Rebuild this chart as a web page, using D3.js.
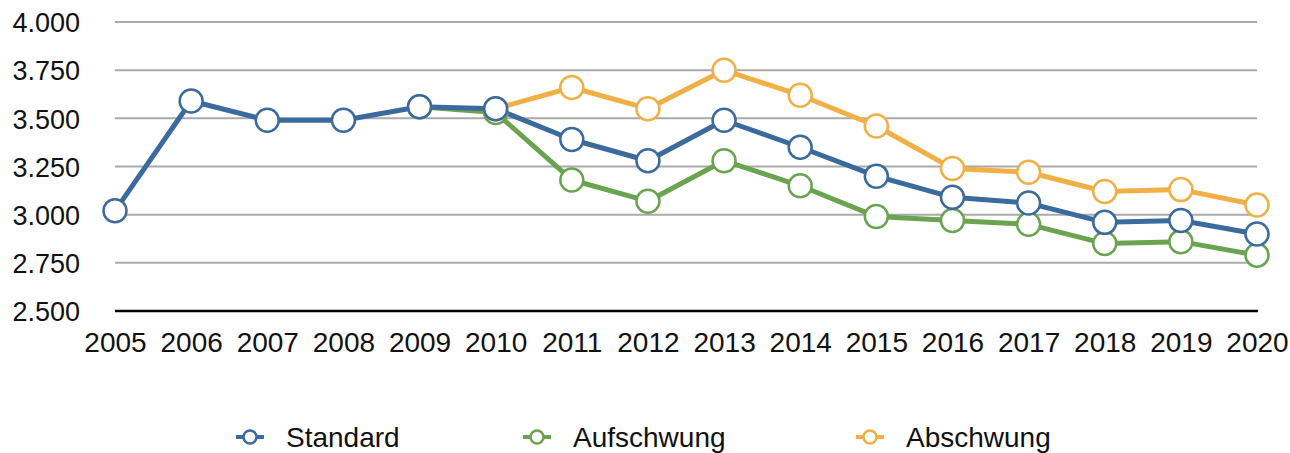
<!DOCTYPE html>
<html>
<head>
<meta charset="utf-8">
<script src="https://cdn.jsdelivr.net/npm/d3@7"></script>
<style>
  body { margin: 0; background: #fff; }
  svg text { font-family: "Liberation Sans", Arial, sans-serif; fill: #111; }
</style>
</head>
<body>
<div id="chart"></div>
<script>
// data
const years = [2005, 2006, 2007, 2008, 2009, 2010, 2011, 2012, 2013, 2014, 2015, 2016, 2017, 2018, 2019, 2020];
const standard   = [3.02, 3.59, 3.49, 3.49, 3.56, 3.55, 3.39, 3.28, 3.49, 3.35, 3.20, 3.09, 3.06, 2.96, 2.97, 2.90];
const aufschwung = [null, null, null, null, 3.56, 3.53, 3.18, 3.07, 3.28, 3.15, 2.99, 2.97, 2.95, 2.85, 2.86, 2.79];
const abschwung  = [null, null, null, null, null, 3.55, 3.66, 3.55, 3.75, 3.62, 3.46, 3.24, 3.22, 3.12, 3.13, 3.05];
const yTicks = [2.5, 2.75, 3.0, 3.25, 3.5, 3.75, 4.0];

const width = 1290, height = 453;
const padding = {top: 22, right: 33, bottom: 142, left: 115};

const BlueCol = "#3a6a9e";
const GreenCol = "#6aa450";
const OrangeCol = "#f0b047";

const series = [
  {name: "Aufschwung", values: aufschwung, color: GreenCol},
  {name: "Abschwung", values: abschwung, color: OrangeCol},
  {name: "Standard", values: standard, color: BlueCol}
];
const legendOrder = ["Standard", "Aufschwung", "Abschwung"];

const svg = d3.select("#chart").append("svg")
  .attr("width", width)
  .attr("height", height);

// x scale
const x = d3.scalePoint().domain(years).range([padding.left, width - padding.right]);
// y scale
const y = d3.scaleLinear().domain([2.5, 4.0]).range([height - padding.bottom, padding.top]);

// grid lines
svg.append("g")
  .selectAll("line")
  .data(yTicks.filter(d => d > 2.5))
  .join("line")
    .attr("x1", padding.left)
    .attr("x2", width - padding.right)
    .attr("y1", d => y(d))
    .attr("y2", d => y(d))
    .attr("stroke", "#aaaaaa")
    .attr("stroke-width", 2);

// y Axis
const yAxis = d3.axisLeft(y).tickValues(yTicks).tickSize(0).tickPadding(0)
  .tickFormat(d => d3.format(".3f")(d));
const gy = svg.append("g")
  .attr("class", "axis y")
  .attr("transform", "translate(" + 80 + ",0)")
  .call(yAxis);
gy.select(".domain").remove();
gy.selectAll("text")
  .attr("font-size", 27)
  .attr("dy", "0.36em")
  .attr("x", 0);

// x Axis
const xAxis = d3.axisBottom(x).tickSize(0).tickPadding(0);
const gx = svg.append("g")
  .attr("class", "axis x")
  .attr("transform", "translate(0," + y(2.5) + ")")
  .call(xAxis);
gx.select(".domain")
  .attr("stroke", "#000")
  .attr("stroke-width", 2.5)
  .attr("d", "M" + padding.left + ",0H" + (width - padding.right + 1));
gx.selectAll("text")
  .attr("font-size", 28)
  .attr("y", 41)
  .attr("dy", 0);

const line = d3.line()
  .defined(d => d != null)
  .x((d, i) => x(years[i]))
  .y(d => y(d));

// lines
svg.append("g")
  .selectAll("path")
  .data(series)
  .join("path")
    .attr("fill", "none")
    .attr("stroke", d => d.color)
    .attr("stroke-width", 5)
    .attr("stroke-linejoin", "round")
    .attr("d", d => line(d.values));

// markers
series.forEach(function(s) {
  svg.append("g")
    .selectAll("circle")
    .data(s.values.map((v, i) => ({year: years[i], v: v})).filter(d => d.v != null))
    .join("circle")
      .attr("cx", d => x(d.year))
      .attr("cy", d => y(d.v))
      .attr("r", 11.5)
      .attr("fill", "#fff")
      .attr("stroke", s.color)
      .attr("stroke-width", 2.5);
});

// legend
const legendX = [236, 523, 856];
const legend = svg.append("g")
  .selectAll("g")
  .data(legendOrder.map(n => series.find(s => s.name == n)))
  .join("g")
    .attr("transform", (d, i) => "translate(" + legendX[i] + ",437)");
legend.append("line")
  .attr("x1", 0).attr("x2", 28)
  .attr("stroke", d => d.color)
  .attr("stroke-width", 4);
legend.append("circle")
  .attr("cx", 14).attr("r", 6.5)
  .attr("fill", "#fff")
  .attr("stroke", d => d.color)
  .attr("stroke-width", 2.5);
legend.append("text")
  .attr("x", 50)
  .attr("dy", "0.36em")
  .attr("font-size", 28)
  .text(d => d.name);
</script>
</body>
</html>
